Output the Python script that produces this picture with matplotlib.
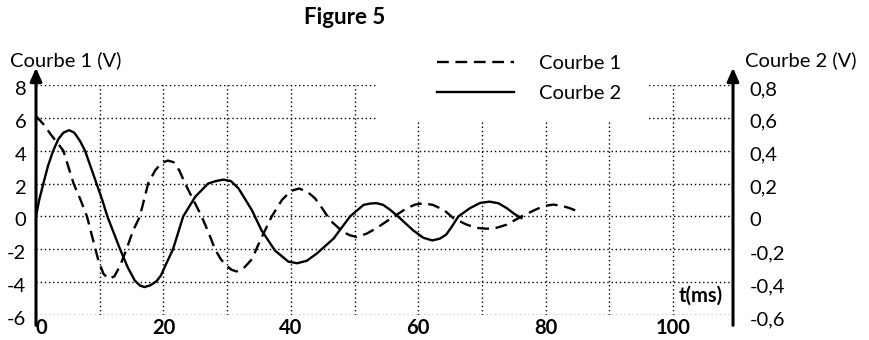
import matplotlib
matplotlib.use("Agg")
import matplotlib.pyplot as plt
from matplotlib.patches import Rectangle
from matplotlib.transforms import ScaledTranslation

# values
t1 = [0, 1.2, 2.3, 3.3, 4.3, 5.1, 5.9, 7.0, 8.0, 9.0, 9.8, 10.6, 11.4, 12.3,
      13.2, 14.2, 15.2, 16.3, 17.6, 18.7, 19.7, 20.7, 21.6, 22.5, 23.4, 24.7,
      26.0, 27.1, 28.1, 29.0, 29.9, 30.7, 31.5, 32.6, 33.9, 34.8, 35.7, 37.0,
      38.6, 40.0, 41.3, 42.6, 43.8, 45.0, 46.2, 48.2, 49.3, 50.3, 51.9, 53.5,
      55.8, 58.2, 59.5, 60.8, 62.3, 64.0, 65.5, 67.6, 69.2, 70.8, 72.4, 73.9,
      76.2, 78.6, 80.0, 81.2, 82.5, 83.8, 85.4]
courbe1 = [6.1, 5.6, 5.0, 4.5, 4.0, 3.0, 2.0, 1.0, 0.0, -1.5, -2.7, -3.5, -3.8,
           -3.65, -3.0, -2.0, -0.9, 0.0, 2.0, 2.8, 3.25, 3.4, 3.3, 2.8, 2.0, 1.0,
           0.0, -1.0, -2.0, -2.6, -3.0, -3.25, -3.35, -3.15, -2.6, -1.8, -1.05,
           0.0, 1.0, 1.55, 1.7, 1.5, 1.1, 0.45, -0.25, -0.95, -1.15, -1.25,
           -1.05, -0.7, -0.1, 0.5, 0.72, 0.8, 0.7, 0.4, -0.1, -0.5, -0.7, -0.75,
           -0.68, -0.5, 0.0, 0.45, 0.65, 0.72, 0.65, 0.5, 0.25]

t2 = [0, 0.5, 1.15, 1.9, 2.7, 3.5, 4.3, 5.2, 6.0, 6.9, 7.7, 8.6, 9.5, 10.4,
      11.2, 12.2, 13.2, 14.4, 15.5, 16.3, 17.0, 17.9, 18.9, 19.6, 20.3, 21.5,
      23.1, 25.0, 27.0, 28.2, 29.4, 30.6, 31.8, 33.9, 35.4, 37.5, 39.6, 41.0,
      42.5, 44.1, 46.7, 49.3, 51.4, 52.4, 53.4, 54.5, 55.6, 57.1, 59.2, 60.8,
      62.2, 63.4, 64.4, 65.3, 66.3, 68.1, 69.7, 71.2, 72.6, 73.9, 75.1, 76.2]
courbe2 = [0, 0.10, 0.20, 0.31, 0.40, 0.47, 0.51, 0.525, 0.51, 0.46, 0.40,
           0.30, 0.20, 0.10, 0.0, -0.10, -0.20, -0.31, -0.39, -0.42, -0.43,
           -0.42, -0.395, -0.36, -0.30, -0.20, 0.0, 0.12, 0.20, 0.215, 0.224,
           0.215, 0.17, 0.037, -0.085, -0.207, -0.275, -0.285, -0.27, -0.225,
           -0.135, 0.0, 0.07, 0.078, 0.081, 0.07, 0.04, -0.01, -0.085, -0.13,
           -0.146, -0.135, -0.11, -0.06, 0.0, 0.05, 0.082, 0.09, 0.08, 0.05,
           0.015, -0.01]

xticks = [0, 20, 40, 60, 80, 100]
yticks1 = [-6, -4, -2, 0, 2, 4, 6, 8]
yticks2 = [-0.6, -0.4, -0.2, 0, 0.2, 0.4, 0.6, 0.8]
ylabels2 = ['-0,6', '-0,4', '-0,2', '0', '0,2', '0,4', '0,6', '0,8']

plt.rcParams['font.family'] = ['Lato', 'DejaVu Sans']
fs = 14.5

fig = plt.figure(figsize=(8.69, 3.40), dpi=100)
W, H = 869, 340
ax1 = fig.add_axes([36 / W, (H - 315) / H, (733 - 36) / W, 230 / H])
ax2 = ax1.twinx()

ax1.set_xlim(0, 109.4)
ax1.set_ylim(-6, 8)
ax2.set_ylim(-0.6, 0.8)

# dotted grid
grid_kw = dict(color='black', linewidth=1.0, linestyle=(0, (1, 2)), zorder=0.5)
for x in range(10, 101, 10):
    ax1.axvline(x, **grid_kw)
for y in yticks1:
    ax1.axhline(y, **grid_kw)
# blank area behind the legend
ax1.add_patch(Rectangle((53.5, 5.75), 42.4, 2.6, facecolor='white',
                        edgecolor='none', zorder=0.6, clip_on=False))

l1, = ax1.plot(t1, courbe1, color='black', linewidth=1.7, dashes=(5, 2.8),
               label='Courbe 1', zorder=3)
l2, = ax2.plot(t2, courbe2, color='black', linewidth=1.7, label='Courbe 2',
               zorder=3)

for a in (ax1, ax2):
    for s in a.spines.values():
        s.set_visible(False)
    a.tick_params(length=0)

ax1.set_xticks(xticks)
ax1.set_xticklabels([str(v) for v in xticks], fontweight='bold', fontsize=fs)
ax1.get_xticklabels()[0].set_horizontalalignment('left')
ax1.tick_params(axis='x', pad=2)
ax1.set_yticks(yticks1)
ax1.set_yticklabels([str(v) for v in yticks1], fontsize=fs)
ax1.tick_params(axis='y', pad=7)
ax2.set_yticks(yticks2)
ax2.set_yticklabels(ylabels2, fontsize=fs)
ax2.tick_params(axis='y', pad=12)

# value labels sit a little below their grid lines
down = ScaledTranslation(0, -3 / 100, fig.dpi_scale_trans)
for lab in ax1.get_yticklabels() + ax2.get_yticklabels():
    lab.set_transform(lab.get_transform() + down)

# axis lines with arrows
arrow = dict(arrowstyle='-|>,head_width=0.35,head_length=0.8', color='black',
             linewidth=2.2, shrinkA=0, shrinkB=0)
for xa in (0, 1):
    ax1.annotate('', xy=(xa, 1.075), xytext=(xa, -0.045),
                 xycoords='axes fraction', arrowprops=arrow,
                 annotation_clip=False)

ax1.text(107.8, -4.8, 't(ms)', ha='right', va='center', fontweight='bold',
         fontsize=fs)
fig.text(10 / W, 1 - 60 / H, 'Courbe 1 (V)', ha='left', va='center',
         fontsize=fs)
fig.text(745 / W, 1 - 60 / H, 'Courbe 2 (V)', ha='left', va='center',
         fontsize=fs)
fig.text(345 / W, 1 - 18 / H, 'Figure 5', ha='center', va='center',
         fontweight='bold', fontsize=16)

leg = fig.legend(handles=[l1, l2], loc='upper left',
                 bbox_to_anchor=(437 / W, 1 - 55 / H), frameon=False,
                 fontsize=fs, handlelength=3.8, handletextpad=1.25,
                 labelspacing=0.62, borderpad=0, borderaxespad=0)

fig.savefig('out.png', dpi=100)
